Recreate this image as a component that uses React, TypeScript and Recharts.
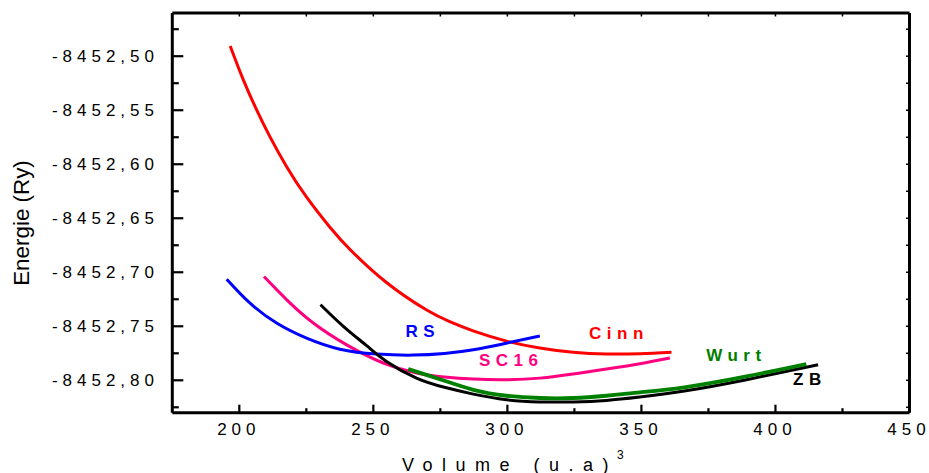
import React from 'react';
import { LineChart, Line, XAxis, YAxis, ReferenceDot } from 'recharts';

// ---------- data ----------
const xDomain: [number, number] = [175, 450];
const yDomain: [number, number] = [-8452.83, -8452.46];

const xMajorTicks = [200, 250, 300, 350, 400, 450];
const xMinorTicks = [225, 275, 325, 375, 425];
const yMajorTicks = [-8452.8, -8452.75, -8452.7, -8452.65, -8452.6, -8452.55, -8452.5];
const yMinorTicks = [-8452.825, -8452.775, -8452.725, -8452.675, -8452.625, -8452.575, -8452.525, -8452.475];

const cinnData = [
  { v: 196.6, e: -8452.4905 },
  { v: 201.5, e: -8452.5219 },
  { v: 206.5, e: -8452.5499 },
  { v: 211.4, e: -8452.5744 },
  { v: 217.6, e: -8452.602 },
  { v: 225.1, e: -8452.6305 },
  { v: 233.8, e: -8452.6583 },
  { v: 241.3, e: -8452.6789 },
  { v: 254.9, e: -8452.7095 },
  { v: 269.9, e: -8452.735 },
  { v: 278.5, e: -8452.7458 },
  { v: 287.2, e: -8452.7543 },
  { v: 299.7, e: -8452.7637 },
  { v: 312.1, e: -8452.7701 },
  { v: 324.5, e: -8452.7741 },
  { v: 336.9, e: -8452.7757 },
  { v: 349.4, e: -8452.7754 },
  { v: 361.2, e: -8452.774 },
];

const rsData = [
  { v: 195.3, e: -8452.7064 },
  { v: 204.0, e: -8452.7286 },
  { v: 213.9, e: -8452.747 },
  { v: 225.1, e: -8452.761 },
  { v: 237.5, e: -8452.7712 },
  { v: 251.2, e: -8452.7757 },
  { v: 264.9, e: -8452.7767 },
  { v: 276.5, e: -8452.7752 },
  { v: 287.3, e: -8452.7718 },
  { v: 299.7, e: -8452.7656 },
  { v: 312.1, e: -8452.759 },
];

const sc16Data = [
  { v: 209.2, e: -8452.704 },
  { v: 217.7, e: -8452.7255 },
  { v: 227.6, e: -8452.747 },
  { v: 239.9, e: -8452.767 },
  { v: 253.7, e: -8452.784 },
  { v: 266.1, e: -8452.7933 },
  { v: 276.5, e: -8452.797 },
  { v: 287.3, e: -8452.7989 },
  { v: 299.7, e: -8452.7995 },
  { v: 312.1, e: -8452.798 },
  { v: 324.5, e: -8452.7942 },
  { v: 336.9, e: -8452.7896 },
  { v: 349.4, e: -8452.7847 },
  { v: 360.6, e: -8452.7794 },
];

const zbData = [
  { v: 230.3, e: -8452.73 },
  { v: 238.8, e: -8452.75 },
  { v: 247.5, e: -8452.768 },
  { v: 254.9, e: -8452.7825 },
  { v: 266.1, e: -8452.798 },
  { v: 276.5, e: -8452.8065 },
  { v: 287.3, e: -8452.8128 },
  { v: 299.7, e: -8452.818 },
  { v: 312.1, e: -8452.82 },
  { v: 324.5, e: -8452.82 },
  { v: 336.9, e: -8452.8186 },
  { v: 349.4, e: -8452.8155 },
  { v: 366.0, e: -8452.81 },
  { v: 389.2, e: -8452.7995 },
  { v: 415.9, e: -8452.7856 },
];

const wurtData = [
  { v: 263.0, e: -8452.7896 },
  { v: 274.8, e: -8452.799 },
  { v: 287.3, e: -8452.8088 },
  { v: 299.7, e: -8452.8143 },
  { v: 312.1, e: -8452.8164 },
  { v: 324.5, e: -8452.8164 },
  { v: 336.9, e: -8452.8143 },
  { v: 349.4, e: -8452.8112 },
  { v: 366.0, e: -8452.8065 },
  { v: 389.2, e: -8452.7964 },
  { v: 411.5, e: -8452.785 },
];

const seriesLabels = [
  { text: 'RS', v: 267.4, e: -8452.7546, color: '#0000ff' },
  { text: 'Cinn', v: 340.6, e: -8452.756, color: '#ff0000' },
  { text: 'SC16', v: 300.4, e: -8452.7815, color: '#ff0080' },
  { text: 'Wurt', v: 384.4, e: -8452.7764, color: '#008000' },
  { text: 'ZB', v: 411.8, e: -8452.7986, color: '#000000' },
];

// ---------- layout ----------
const W = 929;
const H = 473;
const FONT = 'Arial, "Liberation Sans", Helvetica, sans-serif';
const TICK_LS = 5;
const LABEL_LS = 5.5;

const xTicks = [...xMajorTicks, ...xMinorTicks].sort((a, b) => a - b);
const yTicks = [...yMajorTicks, ...yMinorTicks].sort((a, b) => a - b);
const isXMajor = (v: number) => xMajorTicks.some((t) => Math.abs(t - v) < 1e-6);
const isYMajor = (v: number) => yMajorTicks.some((t) => Math.abs(t - v) < 1e-6);
const fmtY = (v: number) => v.toFixed(2).replace('.', ',');

const BottomTick = (props: any) => {
  const { x, y, payload } = props;
  const major = isXMajor(payload.value);
  return (
    <g>
      <line x1={x} x2={x} y1={y} y2={y - (major ? 8 : 4.5)} stroke="#000" strokeWidth={2.2} />
      {major && (
        <text x={x + TICK_LS / 2 - 3} y={y + 22.3} textAnchor="middle" fontFamily={FONT} fontSize={17}
          letterSpacing={TICK_LS} fill="#000">{payload.value}</text>
      )}
    </g>
  );
};

const LeftTick = (props: any) => {
  const { x, y, payload } = props;
  const major = isYMajor(payload.value);
  return (
    <g>
      <line x1={x} x2={x + (major ? 11 : 6.5)} y1={y} y2={y} stroke="#000" strokeWidth={2.2} />
      {major && (
        <text x={x - 13.3} y={y} dy="0.36em" textAnchor="end" fontFamily={FONT} fontSize={17}
          letterSpacing={TICK_LS} fill="#000">{fmtY(payload.value)}</text>
      )}
    </g>
  );
};

const TopTick = (props: any) => {
  const { x, y } = props;
  return <line x1={x} x2={x} y1={y} y2={y + 3.5} stroke="#000" strokeWidth={1.5} />;
};

const RightTick = (props: any) => {
  const { x, y } = props;
  return <line x1={x} x2={x - 3.5} y1={y} y2={y} stroke="#000" strokeWidth={1.5} />;
};

const XTitle = () => (
  <g>
    <text x={402} y={471} fontFamily={FONT} fontSize={18} letterSpacing={9.5} fill="#000">Volume (u.a)</text>
    <text x={617} y={459} fontFamily={FONT} fontSize={12} fill="#000">3</text>
  </g>
);

const YTitle = () => (
  <text transform="translate(29.3,223) rotate(-90)" x={0} y={0} textAnchor="middle" fontFamily={FONT}
    fontSize={22.4} fill="#000">Energie (Ry)</text>
);

const makeLabelShape = (text: string, color: string) => (p: any) => (
  <text x={p.cx + LABEL_LS / 2} y={p.cy} dy="0.36em" textAnchor="middle" fontFamily={FONT} fontWeight="bold"
    fontSize={17} letterSpacing={LABEL_LS} fill={color}>{text}</text>
);

export default function App() {
  return (
    <div style={{ position: 'absolute', left: 0, top: 0, width: W, height: H, background: '#fff' }}>
      <LineChart width={W} height={H} margin={{ top: 12, right: 18.5, bottom: 0, left: 0 }}>
        <XAxis xAxisId="b" type="number" dataKey="v" domain={xDomain} ticks={xTicks} interval={0}
          allowDataOverflow height={60.3} tickSize={0} tickMargin={0} tickLine={false}
          axisLine={{ stroke: '#000', strokeWidth: 3 }} tick={<BottomTick />} label={<XTitle />} />
        <XAxis xAxisId="t" orientation="top" type="number" dataKey="v" domain={xDomain} ticks={xTicks}
          interval={0} allowDataOverflow height={1} tickSize={0} tickMargin={0} tickLine={false}
          axisLine={{ stroke: '#000', strokeWidth: 3 }} tick={<TopTick />} />
        <YAxis yAxisId="l" type="number" domain={yDomain} ticks={yTicks} interval={0} allowDataOverflow
          width={172.3} tickSize={0} tickMargin={0} tickLine={false}
          axisLine={{ stroke: '#000', strokeWidth: 3 }} tick={<LeftTick />} label={<YTitle />} />
        <YAxis yAxisId="r" orientation="right" type="number" domain={yDomain} ticks={yTicks} interval={0}
          allowDataOverflow width={1} tickSize={0} tickMargin={0} tickLine={false}
          axisLine={{ stroke: '#000', strokeWidth: 3 }} tick={<RightTick />} />

        <Line xAxisId="b" yAxisId="l" data={cinnData} dataKey="e" type="natural" stroke="#ff0000"
          strokeWidth={3} dot={false} activeDot={false} isAnimationActive={false} />
        <Line xAxisId="b" yAxisId="l" data={sc16Data} dataKey="e" type="natural" stroke="#ff0080"
          strokeWidth={3} dot={false} activeDot={false} isAnimationActive={false} />
        <Line xAxisId="b" yAxisId="l" data={rsData} dataKey="e" type="natural" stroke="#0000ff"
          strokeWidth={3} dot={false} activeDot={false} isAnimationActive={false} />
        <Line xAxisId="b" yAxisId="l" data={zbData} dataKey="e" type="natural" stroke="#000000"
          strokeWidth={3} dot={false} activeDot={false} isAnimationActive={false} />
        <Line xAxisId="b" yAxisId="l" data={wurtData} dataKey="e" type="natural" stroke="#008000"
          strokeWidth={3.8} dot={false} activeDot={false} isAnimationActive={false} />

        {seriesLabels.map((l) => (
          <ReferenceDot key={l.text} xAxisId="b" yAxisId="l" x={l.v} y={l.e} r={0}
            shape={makeLabelShape(l.text, l.color)} />
        ))}
      </LineChart>
    </div>
  );
}
